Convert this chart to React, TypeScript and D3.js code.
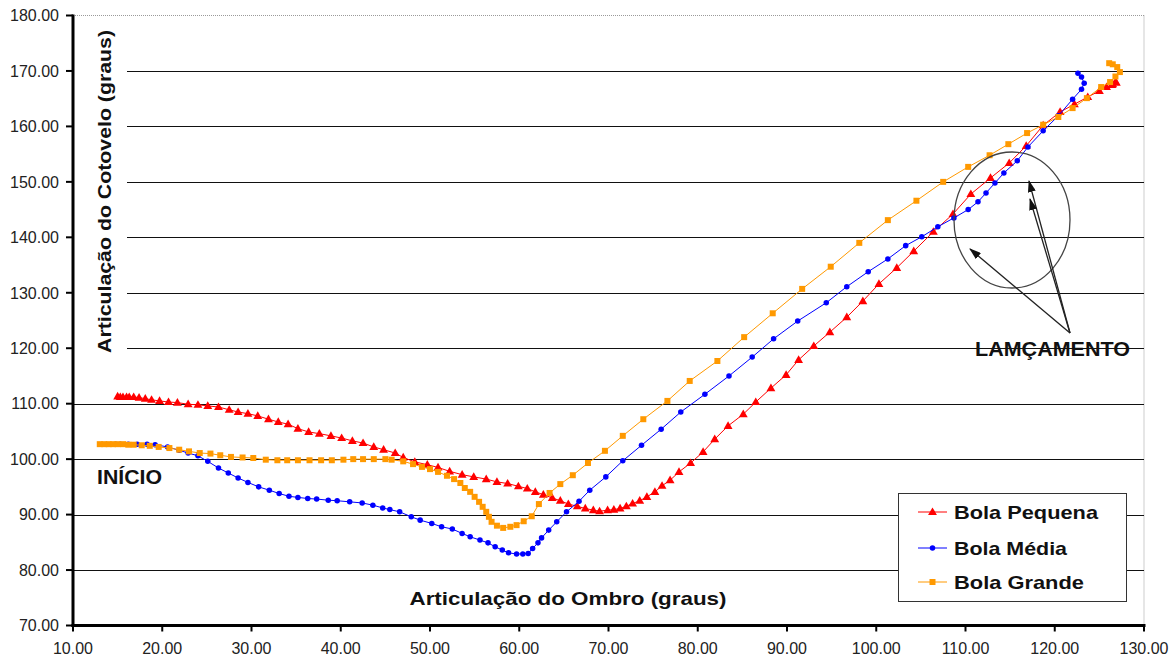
import React from "react";
import * as d3 from "d3";

// Shoulder angle (x) and elbow angle (y) for each ball size, in degrees
const pequenaOmbro = [15.0, 15.3, 15.6, 16.0, 16.3, 16.8, 17.4, 18.1, 18.8, 19.7, 20.7, 21.7, 22.9, 24.0, 25.1, 26.3, 27.5, 28.5, 29.6, 30.7, 31.9, 33.0, 34.1, 35.2, 36.4, 37.6, 38.9, 40.1, 41.3, 42.5, 43.7, 44.8, 46.1, 47.0, 48.3, 49.7, 50.9, 52.2, 53.6, 54.9, 56.3, 57.5, 58.7, 59.9, 60.9, 61.8, 62.7, 63.7, 64.6, 65.5, 66.5, 67.4, 68.3, 69.0, 69.9, 70.6, 71.3, 72.0, 72.7, 73.5, 74.3, 75.2, 76.0, 76.9, 77.9, 79.2, 80.6, 81.9, 83.4, 85.1, 86.5, 88.2, 89.9, 91.3, 93.0, 94.8, 96.7, 98.5, 100.3, 102.3, 104.2, 106.4, 108.6, 110.6, 112.8, 114.9, 116.8, 118.7, 120.6, 122.2, 123.7, 125.0, 125.8, 126.4, 126.8, 126.5, 126.9];
const pequenaCotovelo = [111.3, 111.2, 111.2, 111.2, 111.2, 111.2, 111.1, 110.9, 110.7, 110.5, 110.3, 110.2, 109.9, 109.8, 109.6, 109.4, 108.9, 108.5, 108.2, 107.8, 107.2, 106.7, 106.3, 105.5, 104.9, 104.6, 104.2, 103.8, 103.3, 102.9, 102.2, 101.7, 101.1, 100.3, 99.5, 99.0, 98.5, 97.8, 97.2, 96.8, 96.4, 95.9, 95.6, 95.1, 94.7, 94.1, 93.6, 93.0, 92.5, 91.9, 91.5, 91.1, 90.8, 90.6, 90.8, 90.9, 91.1, 91.5, 92.0, 92.5, 93.2, 94.1, 95.2, 96.2, 97.7, 99.3, 101.3, 103.6, 106.0, 108.1, 110.3, 112.8, 115.2, 117.9, 120.4, 122.9, 125.6, 128.5, 131.6, 134.5, 137.5, 141.0, 144.2, 147.8, 150.7, 153.4, 156.5, 160.2, 162.6, 164.0, 165.3, 166.4, 167.1, 167.5, 168.0, 167.6, 167.9];

const mediaOmbro = [14.8, 15.3, 16.2, 17.2, 18.3, 19.2, 20.6, 21.9, 22.9, 24.0, 25.1, 26.3, 27.4, 28.5, 29.6, 30.8, 32.0, 33.1, 34.2, 35.2, 36.3, 37.3, 38.6, 39.6, 41.0, 42.4, 43.6, 44.7, 45.5, 46.6, 47.9, 48.9, 50.2, 51.3, 52.5, 53.6, 54.5, 55.6, 56.5, 57.3, 58.1, 58.8, 59.7, 60.4, 61.0, 61.5, 62.1, 62.5, 63.3, 64.2, 65.3, 66.7, 67.9, 69.7, 71.6, 73.7, 75.9, 78.1, 80.8, 83.5, 86.1, 88.5, 91.2, 94.4, 96.7, 99.1, 101.3, 103.3, 105.1, 106.9, 108.7, 110.3, 111.4, 112.3, 113.3, 114.3, 115.8, 117.0, 118.7, 120.4, 122.0, 123.0, 123.3, 123.0, 122.6];
const mediaCotovelo = [102.7, 102.7, 102.7, 102.7, 102.7, 102.6, 102.2, 101.6, 101.1, 100.6, 99.6, 98.4, 97.5, 96.6, 95.8, 95.0, 94.4, 93.8, 93.3, 93.1, 92.9, 92.8, 92.6, 92.5, 92.3, 92.1, 91.7, 91.2, 90.9, 90.5, 89.6, 89.0, 88.4, 87.8, 87.4, 86.6, 86.0, 85.4, 84.9, 84.2, 83.6, 83.1, 82.9, 82.9, 83.0, 83.9, 84.9, 85.8, 87.2, 88.7, 90.5, 92.4, 94.4, 96.8, 99.7, 102.5, 105.4, 108.5, 111.7, 115.0, 118.4, 121.7, 124.9, 128.2, 131.1, 133.8, 136.1, 138.5, 140.1, 141.9, 143.5, 145.0, 146.4, 148.0, 149.8, 151.6, 153.8, 156.3, 159.2, 161.9, 164.9, 166.7, 167.8, 168.9, 169.6];

const grandeOmbro = [13.0, 13.5, 14.0, 14.5, 15.0, 15.6, 16.2, 16.8, 17.7, 18.6, 19.6, 20.8, 21.9, 23.0, 24.2, 25.4, 26.5, 27.7, 29.0, 30.2, 31.6, 32.9, 34.0, 35.2, 36.5, 37.8, 39.0, 40.3, 41.4, 42.5, 43.7, 45.0, 45.7, 47.0, 48.1, 49.1, 50.0, 50.9, 51.9, 52.7, 53.4, 53.9, 54.5, 55.0, 55.5, 55.9, 56.3, 56.6, 56.9, 57.5, 58.2, 59.0, 59.7, 60.5, 61.4, 62.2, 63.4, 64.6, 66.0, 67.7, 69.6, 71.6, 73.9, 76.6, 79.1, 82.2, 85.2, 88.4, 91.7, 94.9, 98.1, 101.3, 104.5, 107.5, 110.3, 112.7, 114.8, 116.9, 118.7, 120.4, 122.0, 123.6, 125.2, 126.2, 126.8, 127.3, 127.0, 126.5, 126.1];
const grandeCotovelo = [102.7, 102.7, 102.7, 102.7, 102.7, 102.7, 102.6, 102.6, 102.5, 102.4, 102.2, 102.0, 101.7, 101.4, 101.1, 101.0, 100.7, 100.4, 100.3, 100.2, 99.9, 99.8, 99.8, 99.8, 99.8, 99.8, 99.8, 99.9, 100.0, 100.0, 100.0, 100.0, 99.9, 99.6, 99.1, 98.6, 98.2, 97.7, 97.0, 96.4, 95.7, 94.8, 94.1, 93.2, 92.3, 91.4, 90.5, 89.6, 88.7, 88.0, 87.6, 87.8, 88.1, 88.8, 89.7, 91.9, 93.9, 95.5, 97.1, 99.3, 101.5, 104.2, 107.2, 110.5, 114.1, 117.7, 122.0, 126.3, 130.7, 134.7, 139.0, 143.1, 146.6, 150.0, 152.7, 154.8, 156.8, 158.8, 160.3, 161.7, 163.3, 165.1, 167.1, 168.0, 169.0, 169.8, 170.7, 171.2, 171.4];

const seriesNames = ["Bola Pequena", "Bola Média", "Bola Grande"];
const seriesColors = ["#ff0000", "#0000ff", "#ff9900"];

const xTicks = [10, 20, 30, 40, 50, 60, 70, 80, 90, 100, 110, 120, 130];
const yTicks = [70, 80, 90, 100, 110, 120, 130, 140, 150, 160, 170, 180];

const W = 1174;
const H = 656;
const FONT = "'Liberation Sans', Arial, sans-serif";

const x = d3.scaleLinear().domain([10, 130]).range([73, 1144]);
const y = d3.scaleLinear().domain([70, 180]).range([625.5, 15.5]);

type Pt = [number, number];
const zipPts = (a: number[], b: number[]): Pt[] => a.map((v, i) => [v, b[i]]);

const series = [
  { name: seriesNames[0], color: seriesColors[0], shape: "triangle", pts: zipPts(pequenaOmbro, pequenaCotovelo) },
  { name: seriesNames[1], color: seriesColors[1], shape: "circle", pts: zipPts(mediaOmbro, mediaCotovelo) },
  { name: seriesNames[2], color: seriesColors[2], shape: "square", pts: zipPts(grandeOmbro, grandeCotovelo) },
];

const line = d3
  .line<Pt>()
  .x((d) => x(d[0]))
  .y((d) => y(d[1]));

const symbolPath = (shape: string) => {
  if (shape === "triangle") return d3.symbol().type(d3.symbolTriangle).size(34)() as string;
  if (shape === "circle") return d3.symbol().type(d3.symbolCircle).size(24)() as string;
  return d3.symbol().type(d3.symbolSquare).size(36)() as string;
};

const Marker = ({ shape, color, cx, cy }: { shape: string; color: string; cx: number; cy: number }) => (
  <path d={symbolPath(shape)} transform={`translate(${cx},${cy + (shape === "triangle" ? 0.5 : 0)})`} fill={color} />
);

// Arrows pointing from the label into the release zone
const arrowFrom: Pt = [1070, 333];
const arrowTo: Pt[] = [
  [970, 249],
  [1029, 181],
  [1030, 199],
];

export default function App() {
  const gridStartAt = (v: number) => (v >= 120 && v <= 170 ? 127 : 73);
  return (
    <svg
      width={W}
      height={H}
      style={{ position: "absolute", left: 0, top: 0, background: "#fff" }}
      fontFamily={FONT}
    >
      <defs>
        <marker id="arrowHead" viewBox="0 0 12 8" refX="11" refY="4" markerWidth="12" markerHeight="8" markerUnits="userSpaceOnUse" orient="auto">
          <path d="M0,0 L12,4 L0,8 Z" fill="#111" />
        </marker>
      </defs>

      {/* plot frame */}
      <line x1={73} x2={1144} y1={y(180)} y2={y(180)} stroke="#9a9a9a" strokeWidth={1} strokeDasharray="1,1" />
      <line x1={1144} x2={1144} y1={y(180)} y2={y(70)} stroke="#9a9a9a" strokeWidth={1} strokeDasharray="1,1" />

      {/* horizontal gridlines */}
      {yTicks
        .filter((t) => t > 70 && t < 180)
        .map((t) => (
          <line key={t} x1={gridStartAt(t)} x2={1144} y1={Math.round(y(t)) + 0.5} y2={Math.round(y(t)) + 0.5} stroke="#111" strokeWidth={1} />
        ))}

      {/* data series */}
      {series.map((s) => (
        <g key={s.name}>
          <path d={line(s.pts) as string} fill="none" stroke={s.color} strokeWidth={1} />
          {s.pts.map((p, i) => (
            <Marker key={i} shape={s.shape} color={s.color} cx={x(p[0])} cy={y(p[1])} />
          ))}
        </g>
      ))}

      {/* axes */}
      <line x1={73} x2={73} y1={y(180) - 1} y2={y(70) + 1.5} stroke="#000" strokeWidth={3} />
      <line x1={71.5} x2={1145.5} y1={y(70)} y2={y(70)} stroke="#000" strokeWidth={3} />
      {yTicks.map((t) => (
        <g key={t}>
          <line x1={66} x2={73} y1={y(t)} y2={y(t)} stroke="#000" strokeWidth={2} />
          <text x={59} y={y(t)} dy="0.36em" textAnchor="end" fontSize={16} fill="#222">
            {t.toFixed(2)}
          </text>
        </g>
      ))}
      {xTicks.map((t) => (
        <g key={t}>
          <line x1={x(t)} x2={x(t)} y1={y(70)} y2={y(70) + 6} stroke="#000" strokeWidth={2} />
          <text x={x(t)} y={654} textAnchor="middle" fontSize={16} fill="#222">
            {t.toFixed(2)}
          </text>
        </g>
      ))}

      {/* axis titles */}
      <text
        transform={`translate(111,191.5) rotate(-90)`}
        textAnchor="middle"
        fontSize={19}
        fontWeight="bold"
        fill="#111"
        textLength={323}
        lengthAdjust="spacingAndGlyphs"
      >
        Articulação do Cotovelo (graus)
      </text>
      <text x={568} y={605} textAnchor="middle" fontSize={19} fontWeight="bold" fill="#111" textLength={317} lengthAdjust="spacingAndGlyphs">
        Articulação do Ombro (graus)
      </text>

      {/* annotations */}
      <text x={97} y={484} fontSize={19.5} fontWeight="bold" fill="#111" textLength={65} lengthAdjust="spacingAndGlyphs">
        INÍCIO
      </text>
      <ellipse cx={1012} cy={220} rx={58} ry={68} fill="none" stroke="#444" strokeWidth={1.3} />
      {arrowTo.map((p, i) => (
        <line key={i} x1={arrowFrom[0]} y1={arrowFrom[1]} x2={p[0]} y2={p[1]} stroke="#222" strokeWidth={1.3} markerEnd="url(#arrowHead)" />
      ))}
      <text x={975} y={356} fontSize={19.5} fontWeight="bold" fill="#111" textLength={155} lengthAdjust="spacingAndGlyphs">
        LAMÇAMENTO
      </text>

      {/* legend */}
      <rect x={898.5} y={493.5} width={228} height={108} fill="#fff" stroke="#333" strokeWidth={1} />
      {series.map((s, i) => {
        const ly = [512, 548, 582][i];
        const widths = [144, 113, 130];
        return (
          <g key={s.name}>
            <line x1={918} x2={947} y1={ly} y2={ly} stroke={s.color} strokeWidth={1} />
            <Marker shape={s.shape} color={s.color} cx={932.5} cy={ly} />
            <text x={954} y={ly} dy="0.36em" fontSize={19} fontWeight="bold" fill="#111" textLength={widths[i]} lengthAdjust="spacingAndGlyphs">
              {s.name}
            </text>
          </g>
        );
      })}
    </svg>
  );
}
